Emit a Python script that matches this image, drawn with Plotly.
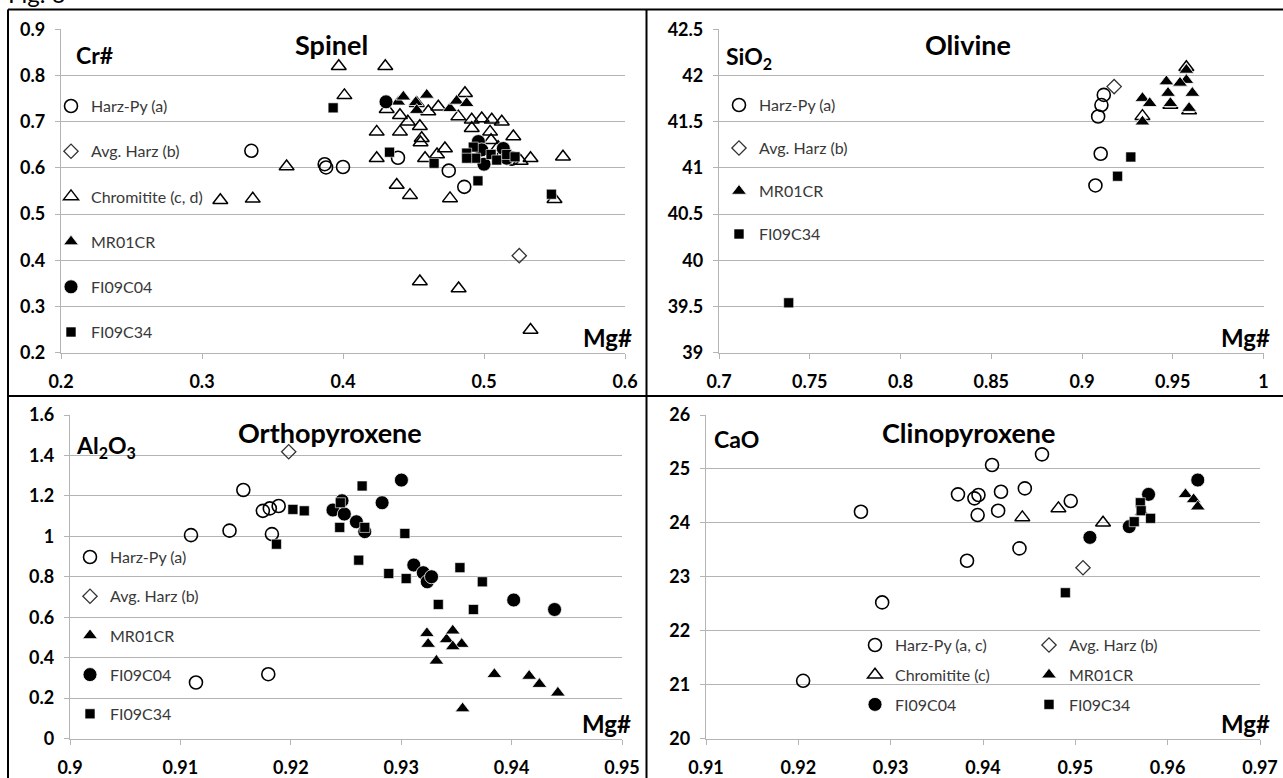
import plotly.graph_objects as go

# ---------------- DATA ----------------
# Spinel: Mg# vs Cr#
sp_harz_mg = [0.335, 0.387, 0.388, 0.400, 0.439, 0.475, 0.486, 0.514, 0.520]
sp_harz_cr = [0.637, 0.608, 0.601, 0.602, 0.622, 0.594, 0.559, 0.626, 0.620]
sp_avg_mg = [0.525]
sp_avg_cr = [0.410]
sp_chr_mg = [0.397, 0.430, 0.401, 0.360, 0.313, 0.336, 0.4545, 0.482, 0.533, 0.556, 0.550, 0.533,
             0.4404, 0.4239, 0.4404, 0.4558, 0.4239, 0.4582, 0.4723, 0.4818, 0.4676, 0.4605, 0.4523,
             0.4865, 0.4913, 0.4984, 0.5055, 0.5126, 0.4913, 0.5043, 0.5208, 0.4381, 0.4475, 0.4759,
             0.446, 0.455, 0.4667, 0.505, 0.431, 0.510, 0.526, 0.4545]
sp_chr_cr = [0.820, 0.820, 0.757, 0.603, 0.530, 0.533, 0.354, 0.339, 0.249, 0.624, 0.532, 0.621,
             0.714, 0.678, 0.678, 0.664, 0.621, 0.621, 0.642, 0.711, 0.7325, 0.722, 0.740,
             0.7615, 0.704, 0.707, 0.704, 0.700, 0.686, 0.678, 0.668, 0.563, 0.541, 0.534,
             0.700, 0.655, 0.629, 0.660, 0.727, 0.645, 0.615, 0.690]
sp_mr_mg = [0.4392, 0.4428, 0.4516, 0.4523, 0.4594, 0.4759, 0.4806, 0.4877]
sp_mr_cr = [0.743, 0.754, 0.742, 0.725, 0.758, 0.729, 0.745, 0.740]
sp_c04_mg = [0.4305, 0.496, 0.4984, 0.500, 0.5137, 0.5161]
sp_c04_cr = [0.743, 0.657, 0.639, 0.608, 0.642, 0.621]
sp_c34_mg = [0.393, 0.433, 0.4646, 0.4957, 0.5478, 0.4924, 0.4877, 0.4941, 0.505, 0.509, 0.5161, 0.522, 0.4877]
sp_c34_cr = [0.730, 0.634, 0.610, 0.572, 0.543, 0.645, 0.632, 0.621, 0.629, 0.617, 0.629, 0.624, 0.621]

# Olivine: Mg# vs SiO2
ol_harz_mg = [0.912, 0.9107, 0.9089, 0.9103, 0.9074]
ol_harz_si = [41.79, 41.68, 41.556, 41.153, 40.81]
ol_avg_mg = [0.9177]
ol_avg_si = [41.88]
ol_chr_mg = [0.9333, 0.9575, 0.959, 0.9487]
ol_chr_si = [41.56, 42.09, 41.62, 41.68]
ol_mr_mg = [0.9333, 0.9373, 0.9333, 0.9465, 0.9474, 0.9487, 0.9575, 0.9575, 0.954, 0.9608, 0.959]
ol_mr_si = [41.755, 41.70, 41.50, 41.934, 41.81, 41.70, 42.06, 41.95, 41.92, 41.81, 41.647]
ol_c34_mg = [0.7384, 0.9196, 0.9269]
ol_c34_si = [39.54, 40.91, 41.118]

# Orthopyroxene: Mg# vs Al2O3
opx_harz_mg = [0.91096, 0.91445, 0.9157, 0.91747, 0.9181, 0.9189, 0.91829, 0.91141, 0.91796]
opx_harz_al = [1.006, 1.028, 1.229, 1.126, 1.138, 1.150, 1.011, 0.277, 0.318]
opx_avg_mg = [0.91981]
opx_avg_al = [1.418]
opx_mr_mg = [0.93233, 0.93244, 0.93319, 0.93411, 0.93467, 0.93548, 0.93467, 0.93556, 0.93844, 0.94159, 0.94252, 0.94419]
opx_mr_al = [0.520, 0.467, 0.384, 0.490, 0.533, 0.467, 0.455, 0.148, 0.318, 0.309, 0.269, 0.226]
opx_c04_mg = [0.93002, 0.92827, 0.92382, 0.92464, 0.92485, 0.92594, 0.9267, 0.93114, 0.932, 0.93236, 0.93275, 0.94019, 0.94389]
opx_c04_al = [1.278, 1.166, 1.130, 1.176, 1.110, 1.072, 1.023, 0.858, 0.820, 0.775, 0.800, 0.685, 0.638]
opx_c34_mg = [0.92646, 0.92019, 0.92122, 0.92449, 0.92443, 0.9267, 0.9187, 0.93033, 0.92615, 0.92887, 0.93045, 0.93532, 0.93735, 0.93336, 0.93654]
opx_c34_al = [1.249, 1.133, 1.126, 1.166, 1.044, 1.044, 0.961, 1.014, 0.882, 0.816, 0.791, 0.845, 0.775, 0.663, 0.638]

# Clinopyroxene: Mg# vs CaO
cpx_harz_mg = [0.92052, 0.92678, 0.92908, 0.93729, 0.93907, 0.93951, 0.93942, 0.93827, 0.94098, 0.94195, 0.94164, 0.94395, 0.94453, 0.94639, 0.9495]
cpx_harz_ca = [21.07, 24.206, 22.524, 24.528, 24.454, 24.516, 24.144, 23.297, 25.072, 24.577, 24.225, 23.526, 24.639, 25.27, 24.404]
cpx_avg_mg = [0.95083]
cpx_avg_ca = [23.167]
cpx_chr_mg = [0.94426, 0.94817, 0.9530]
cpx_chr_ca = [24.101, 24.268, 24.002]
cpx_mr_mg = [0.9572, 0.96193, 0.96281, 0.96326]
cpx_mr_ca = [24.20, 24.528, 24.435, 24.30]
cpx_c04_mg = [0.95158, 0.95584, 0.95793, 0.96326]
cpx_c04_ca = [23.73, 23.93, 24.528, 24.794]
cpx_c34_mg = [0.94892, 0.95638, 0.95704, 0.95713, 0.95815]
cpx_c34_ca = [22.703, 24.021, 24.373, 24.225, 24.083]

# ---------------- STYLE ----------------
W, H = 1283, 778
FONT = "Lato"
GRID = "#b4b4b4"
LEG_COLOR = "#383838"


def px(p):
    return p / W


def py(p):
    return 1 - p / H


STY = {
    "harz": dict(symbol="circle-open", size=13, color="black", line=dict(width=1.6, color="black")),
    "avg": dict(symbol="diamond-open", size=11, color="#333333", line=dict(width=1.3, color="#333333")),
    "chr": dict(symbol="triangle-up-open", size=13, color="black", line=dict(width=1.5, color="black")),
    "mr": dict(symbol="triangle-up", size=13, color="black", line=dict(width=0.8, color="white")),
    "c04": dict(symbol="circle", size=14, color="black", line=dict(width=0.8, color="white")),
    "c34": dict(symbol="square", size=10, color="black", line=dict(width=0.6, color="white")),
}

fig = go.Figure()


def add(xs, ys, key, name, axes, legend, show=True):
    xa, ya = axes
    fig.add_trace(go.Scatter(
        x=xs, y=ys, mode="markers", name=name, marker=STY[key],
        xaxis=xa, yaxis=ya, legend=legend, showlegend=show,
        legendgroup=legend + name, cliponaxis=False,
    ))


A1, A2, A3, A4 = ("x", "y"), ("x2", "y2"), ("x3", "y3"), ("x4", "y4")

# Spinel
add(sp_harz_mg, sp_harz_cr, "harz", "Harz-Py (a)", A1, "legend")
add(sp_avg_mg, sp_avg_cr, "avg", "Avg. Harz (b)", A1, "legend")
add(sp_chr_mg, sp_chr_cr, "chr", "Chromitite (c, d)", A1, "legend")
add(sp_mr_mg, sp_mr_cr, "mr", "MR01CR", A1, "legend")
add(sp_c04_mg, sp_c04_cr, "c04", "FI09C04", A1, "legend")
add(sp_c34_mg, sp_c34_cr, "c34", "FI09C34", A1, "legend")
# Olivine
add(ol_harz_mg, ol_harz_si, "harz", "Harz-Py (a)", A2, "legend2")
add(ol_avg_mg, ol_avg_si, "avg", "Avg. Harz (b)", A2, "legend2")
add(ol_chr_mg, ol_chr_si, "chr", "Chromitite (c, d)", A2, "legend2", show=False)
add(ol_mr_mg, ol_mr_si, "mr", "MR01CR", A2, "legend2")
add(ol_c34_mg, ol_c34_si, "c34", "FI09C34", A2, "legend2")
# Orthopyroxene
add(opx_harz_mg, opx_harz_al, "harz", "Harz-Py (a)", A3, "legend3")
add(opx_avg_mg, opx_avg_al, "avg", "Avg. Harz (b)", A3, "legend3")
add(opx_mr_mg, opx_mr_al, "mr", "MR01CR", A3, "legend3")
add(opx_c04_mg, opx_c04_al, "c04", "FI09C04", A3, "legend3")
add(opx_c34_mg, opx_c34_al, "c34", "FI09C34", A3, "legend3")
# Clinopyroxene
add(cpx_harz_mg, cpx_harz_ca, "harz", "Harz-Py (a, c)", A4, "legend4")
add(cpx_avg_mg, cpx_avg_ca, "avg", "Avg. Harz (b)", A4, "legend5")
add(cpx_chr_mg, cpx_chr_ca, "chr", "Chromitite (c)", A4, "legend4")
add(cpx_mr_mg, cpx_mr_ca, "mr", "MR01CR", A4, "legend5")
add(cpx_c04_mg, cpx_c04_ca, "c04", "FI09C04", A4, "legend4")
add(cpx_c34_mg, cpx_c34_ca, "c34", "FI09C34", A4, "legend5")

# ---------------- AXES ----------------
panels = [
    # (suffix, x px range, y px range, xrange, yrange, xdtick, ydtick)
    ("", (61, 625), (29.3, 352.7), [0.2, 0.6], [0.2, 0.9], 0.1, 0.1),
    ("2", (719, 1263.5), (29.3, 352.7), [0.7, 1.0], [39, 42.5], 0.05, 0.5),
    ("3", (70, 622), (415, 738.5), [0.9, 0.95], [0, 1.6], 0.01, 0.2),
    ("4", (706, 1260), (415, 738.5), [0.91, 0.97], [20, 26], 0.01, 1),
]
tickfont = dict(family=FONT, size=18, color="black", weight="bold")
for suf, xp, yp, xr, yr, dx, dy in panels:
    fig.layout["xaxis" + suf] = dict(
        domain=[px(xp[0]), px(xp[1])], range=xr, tick0=xr[0], dtick=dx,
        anchor="y" + suf, showgrid=False, zeroline=False, showline=True,
        linecolor=GRID, linewidth=1.3, ticks="outside", ticklen=5, tickcolor=GRID,
        tickwidth=1.3, tickfont=tickfont, ticklabelstandoff=8,
    )
    fig.layout["yaxis" + suf] = dict(
        domain=[py(yp[1]), py(yp[0])], range=yr, tick0=yr[0], dtick=dy,
        anchor="x" + suf, showgrid=True, gridcolor=GRID, gridwidth=1.3, zeroline=False,
        showline=True, linecolor=GRID, linewidth=1.3, ticks="outside", ticklen=5,
        tickcolor=GRID, tickwidth=1.3, tickfont=tickfont, ticklabelstandoff=6,
    )

# ---------------- LEGENDS ----------------
LEG_FS = 16
item_h = LEG_FS * 1.3 + 3


def legend_cfg(sym_x, first_y, spacing):
    return dict(
        x=px(sym_x - 20), y=py(first_y - 5 - item_h / 2), xanchor="left", yanchor="top",
        xref="paper", yref="paper", bgcolor="rgba(0,0,0,0)", borderwidth=0,
        font=dict(family=FONT, size=LEG_FS, color=LEG_COLOR),
        tracegroupgap=spacing - item_h, traceorder="grouped", itemsizing="trace",
    )


fig.update_layout(
    legend=legend_cfg(71, 106, 45.2),
    legend2=legend_cfg(739, 105, 43.0),
    legend3=legend_cfg(90, 557, 39.2),
    legend4=legend_cfg(875, 645, 29.7),
    legend5=legend_cfg(1049, 645, 29.7),
)

# ---------------- TEXT ----------------
ann = []


def text(t, x, y, size, bold=True, xanchor="center", yanchor="middle"):
    ann.append(dict(
        text=t, x=px(x), y=py(y), xref="paper", yref="paper", showarrow=False,
        xanchor=xanchor, yanchor=yanchor,
        font=dict(family=FONT, size=size, color="black", weight="bold" if bold else "normal"),
    ))


text("Spinel", 331, 45, 27)
text("Cr#", 94, 55, 23)
text("Mg#", 607, 338, 24)
text("Olivine", 968, 45, 27)
text("SiO<sub>2</sub>", 749, 58, 23)
text("Mg#", 1245, 338, 24)
text("Orthopyroxene", 330, 432, 27)
text("Al<sub>2</sub>O<sub>3</sub>", 106, 446, 23)
text("Mg#", 606, 723, 24)
text("Clinopyroxene", 968, 432, 27)
text("CaO", 737, 439, 23)
text("Mg#", 1245, 723, 24)
text("Fig. 6", 6, 10, 24, bold=False, xanchor="left", yanchor="bottom")

# ---------------- FRAMES ----------------
shapes = []
for x0, y0, x1, y1 in [(8, 9.5, W, 9.5), (8, 9.5, 8, H), (646.5, 9.5, 646.5, H), (8, 396, W, 396)]:
    shapes.append(dict(type="line", xref="paper", yref="paper", x0=px(x0), y0=py(y0),
                       x1=px(x1), y1=py(y1), line=dict(color="black", width=2)))

fig.update_layout(
    width=W, height=H, autosize=False,
    margin=dict(l=0, r=0, t=0, b=0, pad=0, autoexpand=False),
    paper_bgcolor="white", plot_bgcolor="white",
    font=dict(family=FONT, color="black"),
    annotations=ann, shapes=shapes,
)

fig.write_html("out.html")
